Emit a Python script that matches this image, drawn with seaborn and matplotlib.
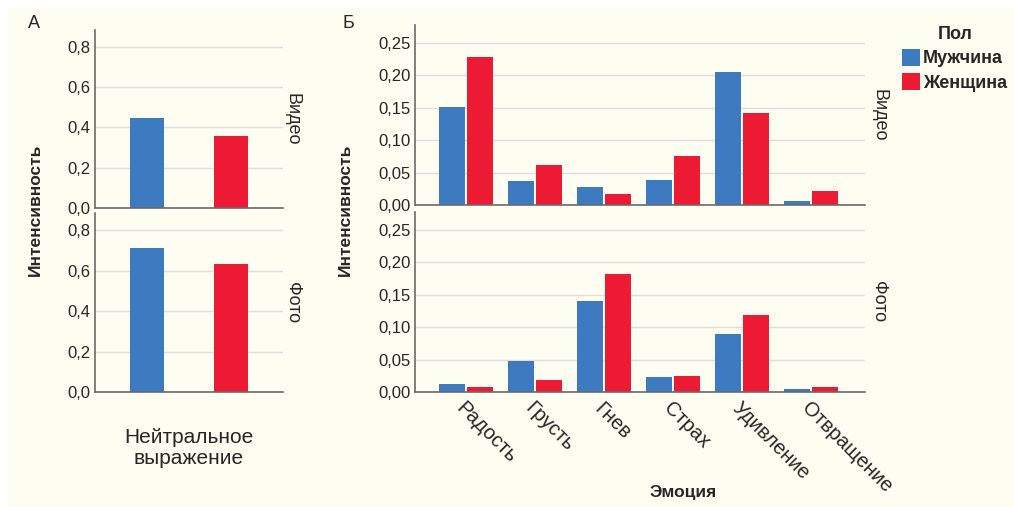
import numpy as np
import pandas as pd
import matplotlib
matplotlib.use("Agg")
import matplotlib.pyplot as plt
import seaborn as sns
from matplotlib.patches import Patch, Rectangle
from matplotlib.ticker import FuncFormatter, MultipleLocator

# data
sexes = ["Мужчина", "Женщина"]
emotions = ["Радость", "Грусть", "Гнев", "Страх", "Удивление", "Отвращение"]

neutral_video = [0.445, 0.360]
neutral_photo = [0.711, 0.632]

video_male = [0.151, 0.037, 0.028, 0.039, 0.205, 0.006]
video_female = [0.228, 0.062, 0.017, 0.076, 0.142, 0.022]
photo_male = [0.012, 0.048, 0.141, 0.023, 0.089, 0.004]
photo_female = [0.008, 0.019, 0.182, 0.025, 0.119, 0.007]

colors = {"Мужчина": "#3d7abf", "Женщина": "#ec1a33"}
cream = "#fdfdf2"

sns.set_style("white")
plt.rcParams["font.family"] = ["Liberation Sans", "DejaVu Sans"]

neutral_df = pd.DataFrame({
    "Выражение": ["Нейтральное\nвыражение"] * 4,
    "Пол": sexes * 2,
    "Интенсивность": neutral_video + neutral_photo,
    "Формат": ["Видео"] * 2 + ["Фото"] * 2,
})

rows = []
for fmt, m, f in [("Видео", video_male, video_female), ("Фото", photo_male, photo_female)]:
    for emo, vm, vf in zip(emotions, m, f):
        rows.append((emo, "Мужчина", vm, fmt))
        rows.append((emo, "Женщина", vf, fmt))
emo_df = pd.DataFrame(rows, columns=["Эмоция", "Пол", "Интенсивность", "Формат"])

fig = plt.figure(figsize=(10.14, 5.07), dpi=100, facecolor="white")
fig.patches.append(Rectangle((8 / 1014, 0), 1 - 8 / 1014, 1 - 8 / 507,
                             transform=fig.transFigure, facecolor=cream,
                             edgecolor="none", zorder=-10))

W, H = 1014, 507


def box(x0, x1, ytop, ybot):
    return [x0 / W, 1 - ybot / H, (x1 - x0) / W, (ybot - ytop) / H]


def style_axis(ax, ymax, step, decimals):
    ax.set_facecolor(cream)
    ax.set_ylim(0, ymax)
    ax.yaxis.set_major_locator(MultipleLocator(step))
    ax.yaxis.set_major_formatter(FuncFormatter(
        lambda v, p: f"{v:.{decimals}f}".replace(".", ",")))
    ax.grid(axis="y", color="#dedede", linewidth=1)
    ax.set_axisbelow(True)
    for s in ["top", "right"]:
        ax.spines[s].set_visible(False)
    for s in ["left", "bottom"]:
        ax.spines[s].set_color("#6a6a6a")
        ax.spines[s].set_linewidth(1.2)
    ax.tick_params(axis="both", length=0, labelsize=12, pad=3)
    ax.set_xlabel("")
    ax.set_ylabel("")


# panel A
axA1 = fig.add_axes(box(95, 283, 30, 208))
axA2 = fig.add_axes(box(95, 283, 213, 392))
for ax, fmt in [(axA1, "Видео"), (axA2, "Фото")]:
    sub = neutral_df[neutral_df["Формат"] == fmt]
    sns.barplot(data=sub, x="Выражение", y="Интенсивность", hue="Пол",
                hue_order=sexes, palette=colors, saturation=1, width=0.8,
                gap=0.6, linewidth=0, legend=False, ax=ax)
    style_axis(ax, 0.884, 0.2, 1)
    ax.set_xlim(-0.448, 0.448)
    ax.text(1.05, 0.5, fmt, transform=ax.transAxes, rotation=-90,
            ha="center", va="center", fontsize=13)
axA1.set_xticklabels([])
axA2.tick_params(axis="x", labelsize=15, pad=26)
for lab in axA2.get_xticklabels():
    lab.set_linespacing(1.1)

# panel B
axB1 = fig.add_axes(box(415, 865, 25, 205))
axB2 = fig.add_axes(box(415, 865, 212, 392))
for ax, fmt in [(axB1, "Видео"), (axB2, "Фото")]:
    sub = emo_df[emo_df["Формат"] == fmt]
    sns.barplot(data=sub, x="Эмоция", y="Интенсивность", hue="Пол",
                order=emotions, hue_order=sexes, palette=colors, saturation=1,
                width=0.8, gap=0.06, linewidth=0, legend=False, ax=ax)
    style_axis(ax, 0.2778, 0.05, 2)
    ax.set_xlim(-0.74, 5.78)
    ax.text(1.03, 0.5, fmt, transform=ax.transAxes, rotation=-90,
            ha="center", va="center", fontsize=13)
axB1.set_xticklabels([])
axB2.tick_params(axis="x", labelsize=14.5, pad=5)
for lab in axB2.get_xticklabels():
    lab.set_rotation(-45)
    lab.set_ha("left")
    lab.set_rotation_mode("anchor")

# labels
fig.text(35 / W, 1 - 210 / H, "Интенсивность", rotation=90, ha="center",
         va="center", fontsize=12.5, fontweight="bold")
fig.text(345 / W, 1 - 210 / H, "Интенсивность", rotation=90, ha="center",
         va="center", fontsize=12.5, fontweight="bold")
fig.text(683 / W, 1 - 493 / H, "Эмоция", ha="center", va="center",
         fontsize=12.5, fontweight="bold")
fig.text(34 / W, 1 - 23 / H, "А", ha="center", va="center", fontsize=13)
fig.text(348 / W, 1 - 23 / H, "Б", ha="center", va="center", fontsize=13)

handles = [Patch(facecolor=colors[s], edgecolor="none", label=s) for s in sexes]
fig.legend(handles=handles, title="Пол", loc="upper left",
           bbox_to_anchor=(886 / W, 1 - 10 / H), frameon=False,
           prop={"weight": "bold", "size": 13},
           title_fontproperties={"weight": "bold", "size": 13},
           handlelength=1.0, handleheight=1.1, handletextpad=0.15,
           labelspacing=0.3)

fig.savefig("out.png", dpi=100, facecolor=fig.get_facecolor())
